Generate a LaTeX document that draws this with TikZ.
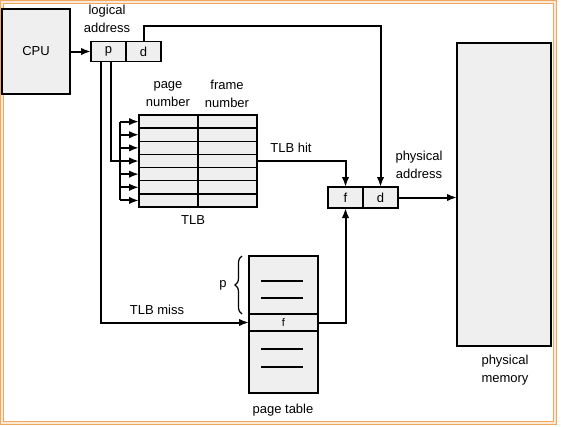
\documentclass[tikz,border=0pt]{standalone}
\usepackage{fontspec}
\setmainfont{Liberation Sans}
\usetikzlibrary{positioning, arrows.meta, decorations.pathreplacing}
\definecolor{cellgray}{HTML}{EFEFEF}
\definecolor{frameorange}{HTML}{F0A860}
\tikzstyle{box} = [rectangle, draw=black, fill=cellgray, line width=1.5pt, inner sep=0pt, outer sep=0pt, text centered]
\tikzstyle{field} = [box, minimum width=35pt, minimum height=20pt]
\tikzstyle{cell} = [box, minimum width=59pt, minimum height=13.14pt]
\tikzstyle{txt} = [align=center, inner sep=0pt]
\tikzstyle{arrow} = [line width=2pt,->,>={Latex[length=10pt,width=7.5pt]}]
\tikzstyle{wire} = [line width=2pt]

\begin{document}
\begin{tikzpicture}[x=1pt, y=-1pt, node distance=13.14pt, font=\fontsize{13}{18}\selectfont]
\useasboundingbox (0,0) rectangle (561,426);
\fill[white] (0,0) rectangle (561,426);

% Frame
\draw[frameorange, line width=1pt, double=frameorange!25, double distance=1.6pt] (2,2) rectangle (555,423);

% CPU and logical address
\node (CPU) [box, minimum width=68pt, minimum height=85pt] at (36,51.5) {CPU};
\node (LAp) [field] at (108.5,51.5) {p};
\node (LAd) [field, right=0pt of LAp] {d};
\node (LA) [txt] at (107,19) {logical\\address};

% TLB
\node (T1) [cell] at (168.5,121.6) {};
\node (T2) [cell, below of=T1] {};
\node (T3) [cell, below of=T2] {};
\node (T4) [cell, below of=T3] {};
\node (T5) [cell, below of=T4] {};
\node (T6) [cell, below of=T5] {};
\node (T7) [cell, below of=T6] {};

\node (F1) [cell, right=0pt of T1] {};
\node (F2) [cell, below of=F1] {};
\node (F3) [cell, below of=F2] {};
\node (F4) [cell, below of=F3] {};
\node (F5) [cell, below of=F4] {};
\node (F6) [cell, below of=F5] {};
\node (F7) [cell, below of=F6] {};

\node (PN) [txt] at (168,94) {page\\number};
\node (FN) [txt] at (227,94) {frame\\number};
\node (TLB) [txt] at (193,220) {TLB};

% Page table
\node (PTp) [box, minimum width=69pt, minimum height=58pt] at (283.5,285) {};
\node (PTf) [box, minimum width=69pt, minimum height=17pt, below=0pt of PTp, font=\fontsize{11}{12}\selectfont] {f};
\node (PTr) [box, minimum width=69pt, minimum height=62pt, below=0pt of PTf] {};
\node (PT) [txt] at (283,410) {page table};
\node (Pb) [txt] at (223,285) {p};

\draw [line width=1.4pt] (261,281) -- (303,281);
\draw [line width=1.4pt] (261,298) -- (303,298);
\draw [line width=1.4pt] (261,349) -- (303,349);
\draw [line width=1.4pt] (261,367) -- (303,367);
\draw [decorate, decoration={brace, amplitude=7pt}, line width=1.2pt] (242,314) -- (242,256);

% Physical address and memory
\node (PAf) [field, minimum height=21pt] at (345.5,197.5) {f};
\node (PAd) [field, minimum height=21pt, right=0pt of PAf] {d};
\node (PA) [txt] at (419,165) {physical\\address};
\node (Mem) [box, minimum width=94pt, minimum height=303pt] at (504,194.5) {};
\node (PM) [txt] at (505,370) {physical\\memory};

\node (Hit) [txt] at (291,148) {TLB hit};
\node (Miss) [txt] at (157,310) {TLB miss};

% Connecting arrows
\coordinate (bus) at (120,0);
\coordinate (dlevel) at (0,26);

\draw [arrow] (CPU.east) -- (LAp.west);

\draw [wire] ([xshift=2.5pt]LAp.south) |- (bus |- T4);
\draw [wire] (bus |- T1) -- (bus |- T7);
\draw [arrow] (bus |- T1) -- (T1.west);
\draw [arrow] (bus |- T2) -- (T2.west);
\draw [arrow] (bus |- T3) -- (T3.west);
\draw [arrow] (bus |- T4) -- (T4.west);
\draw [arrow] (bus |- T5) -- (T5.west);
\draw [arrow] (bus |- T6) -- (T6.west);
\draw [arrow] (bus |- T7) -- (T7.west);

\draw [arrow] ([xshift=-7.5pt]LAp.south) |- (PTf.west);
\draw [arrow] (F4.east) -| (PAf.north);
\draw [arrow] (PTf.east) -| (PAf.south);
\draw [arrow] (LAd.north) |- (PAd.north |- dlevel) -- (PAd.north);
\draw [arrow] (PAd.east) -- (PAd.east -| Mem.west);

\end{tikzpicture}
\end{document}
